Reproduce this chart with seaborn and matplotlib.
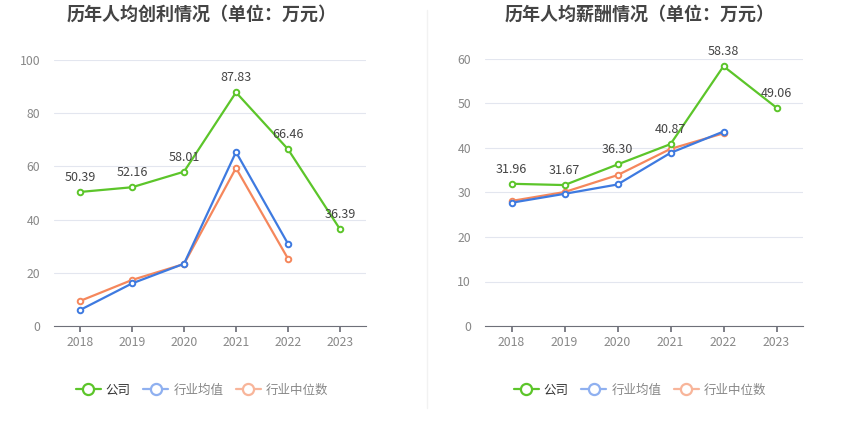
import matplotlib
matplotlib.use("Agg")
import matplotlib.pyplot as plt
import seaborn as sns
import pandas as pd
import numpy as np
from matplotlib.lines import Line2D

sns.set_theme(style="white")
plt.rcParams['font.family'] = ['Noto Sans CJK SC', 'DejaVu Sans']

years = ["2018", "2019", "2020", "2021", "2022", "2023"]
series_names = ["公司", "行业均值", "行业中位数"]

profit_company = [50.39, 52.16, 58.01, 87.83, 66.46, 36.39]
profit_avg = [6.0, 16.0, 23.4, 65.4, 30.9, None]
profit_median = [9.4, 17.3, 23.3, 59.4, 25.3, None]

salary_company = [31.96, 31.67, 36.30, 40.87, 58.38, 49.06]
salary_avg = [27.7, 29.7, 31.8, 38.9, 43.7, None]
salary_median = [28.1, 30.1, 33.9, 39.8, 43.3, None]

colors = {"公司": "#5cc52a", "行业均值": "#3e7ae0", "行业中位数": "#f5875c"}
legend_colors = {"公司": "#5cc52a", "行业均值": "#8fb0f0", "行业中位数": "#f8b59a"}
legend_text = {"公司": "#333333", "行业均值": "#888888", "行业中位数": "#888888"}

W, H = 850, 437
fig = plt.figure(figsize=(W / 100, H / 100), dpi=100)


def make_df(comp, avg, med):
    rows = []
    for name, vals in zip(series_names, [comp, avg, med]):
        for i, v in enumerate(vals):
            rows.append({"x": i, "year": years[i], "series": name,
                         "value": np.nan if v is None else v})
    return pd.DataFrame(rows)


def panel(x0, x1, y0, y1, comp, avg, med, ymax, ystep, title, title_x):
    ax = fig.add_axes([x0 / W, (H - y1) / H, (x1 - x0) / W, (y1 - y0) / H])
    df = make_df(comp, avg, med)
    for name in series_names[::-1]:
        d = df[df.series == name].dropna()
        sns.lineplot(data=d, x="x", y="value", ax=ax, color=colors[name],
                     linewidth=1.6, marker="o", markersize=4,
                     markerfacecolor="white", markeredgecolor=colors[name],
                     markeredgewidth=1.4, legend=False, zorder=3)
    for i, v in enumerate(comp):
        ax.text(i, v + ymax * 0.03, f"{v:.2f}", ha="center", va="bottom",
                fontsize=9, color="#444444", zorder=5)
    ax.set_xlim(-0.5, len(years) - 0.5)
    ax.set_ylim(0, ymax)
    ax.set_yticks(np.arange(0, ymax + 0.1, ystep))
    ax.set_yticklabels([f"{int(t)}" for t in np.arange(0, ymax + 0.1, ystep)],
                       fontsize=8.8, color="#888888")
    ax.set_xticks(range(len(years)))
    ax.set_xticklabels(years, fontsize=8.8, color="#888888")
    ax.set_xlabel("")
    ax.set_ylabel("")
    ax.grid(axis="y", color="#e3e6ef", linewidth=0.8)
    ax.set_axisbelow(True)
    for s in ["left", "right", "top"]:
        ax.spines[s].set_visible(False)
    ax.spines["bottom"].set_color("#6e7079")
    ax.spines["bottom"].set_linewidth(0.8)
    ax.tick_params(axis="x", length=4, color="#6e7079", pad=3, bottom=True)
    ax.tick_params(axis="y", length=0, pad=10)
    fig.text(title_x / W, 1 - 14 / H, title, ha="center", va="center",
             fontsize=13, fontweight="bold", color="#444444")
    handles = [Line2D([0], [0], color=legend_colors[n], marker="o", markersize=8,
                      markerfacecolor="white", markeredgecolor=legend_colors[n],
                      markeredgewidth=1.6, linewidth=1.6) for n in series_names]
    leg = ax.legend(handles, series_names, loc="center",
                    bbox_to_anchor=((title_x - x0) / (x1 - x0), -(390 - y1) / (y1 - y0)),
                    ncol=3, frameon=False, fontsize=9, handlelength=2.0,
                    handletextpad=0.4, columnspacing=1.0)
    for t, n in zip(leg.get_texts(), series_names):
        t.set_color(legend_text[n])
    return ax


panel(54, 366, 60, 326, profit_company, profit_avg, profit_median, 100, 20,
      "历年人均创利情况（单位：万元）", 202)
panel(485, 803, 59, 326, salary_company, salary_avg, salary_median, 60, 10,
      "历年人均薪酬情况（单位：万元）", 640)

fig.add_artist(Line2D([427 / W, 427 / W], [1 - 10 / H, 1 - 408 / H],
                      color="#f2f2f2", linewidth=1))

fig.savefig("out.png", dpi=100)
